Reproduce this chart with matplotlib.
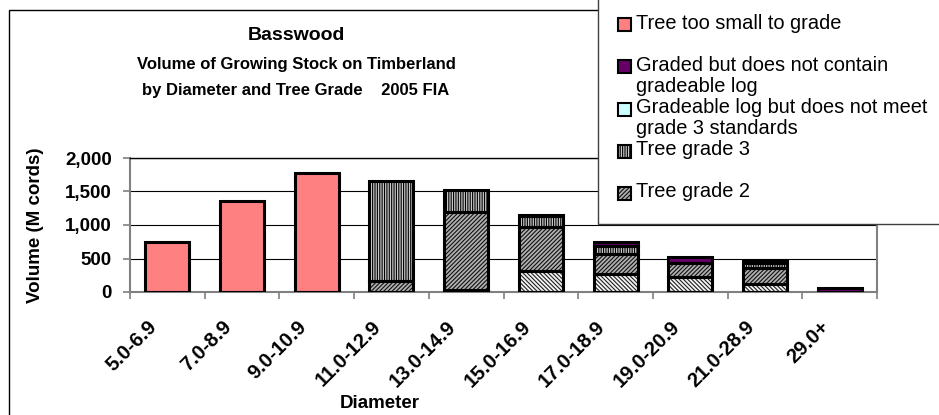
import matplotlib
matplotlib.use("Agg")
import matplotlib.pyplot as plt
import matplotlib.patches as mpatches
from matplotlib.ticker import StrMethodFormatter
from matplotlib.transforms import ScaledTranslation
import numpy as np

plt.rcParams["font.family"] = ["Liberation Sans", "DejaVu Sans"]
plt.rcParams["hatch.linewidth"] = 0.8

# data (M cords)
diameters = ["5.0-6.9", "7.0-8.9", "9.0-10.9", "11.0-12.9", "13.0-14.9",
             "15.0-16.9", "17.0-18.9", "19.0-20.9", "21.0-28.9", "29.0+"]
tree_grade_1 = [0, 0, 0, 0, 30, 320, 270, 220, 120, 0]
tree_grade_2 = [0, 0, 0, 165, 1160, 655, 300, 210, 235, 0]
tree_grade_3 = [0, 0, 0, 1485, 330, 165, 110, 0, 83, 0]
below_grade_3 = [0, 0, 0, 0, 0, 0, 0, 0, 0, 0]
no_gradeable_log = [0, 0, 0, 0, 0, 10, 65, 90, 30, 60]
too_small = [740, 1360, 1780, 0, 0, 0, 0, 0, 0, 0]

series = [
    ("Tree grade 1", tree_grade_1, "#f4f4f4", "\\" * 8, "#202020"),
    ("Tree grade 2", tree_grade_2, "#b0b0b0", "/" * 8, "#101010"),
    ("Tree grade 3", tree_grade_3, "#c8c8c8", "|" * 7, "#000000"),
    ("Gradeable log but does not meet\ngrade 3 standards", below_grade_3, "#ccffff", None, None),
    ("Graded but does not contain\ngradeable log", no_gradeable_log, "#660066", None, None),
    ("Tree too small to grade", too_small, "#ff8080", None, None),
]

W, H = 939, 415
fig = plt.figure(figsize=(W / 100, H / 100), dpi=100)
ax = fig.add_axes([130 / W, 1 - 292 / H, (877 - 130) / W, (292 - 158) / H])

x = np.arange(len(diameters))
bottom = np.zeros(len(diameters))
for name, vals, face, hatch, hcol in series:
    vals = np.array(vals, dtype=float)
    lw = [2.2 if v > 0 else 0 for v in vals]
    ax.bar(x, vals, 0.59, bottom=bottom, color=face, hatch=hatch,
           edgecolor=hcol if hcol else face, linewidth=0, zorder=2)
    ax.bar(x, vals, 0.59, bottom=bottom, fill=False, edgecolor="black",
           linewidth=lw, zorder=3)
    bottom += vals

ax.set_xlim(-0.5, len(diameters) - 0.5)
ax.set_ylim(0, 2000)
ax.set_yticks([0, 500, 1000, 1500, 2000])
ax.yaxis.set_major_formatter(StrMethodFormatter("{x:,.0f}"))
ax.grid(axis="y", color="black", linewidth=0.8, zorder=0)
ax.set_axisbelow(True)

ax.set_xticks(np.arange(len(diameters) + 1) - 0.5)
ax.set_xticklabels([])
ax.set_xticks(x, diameters, minor=True)
ax.tick_params(axis="x", which="major", direction="out", length=5, width=1.2, color="#808080")
ax.tick_params(axis="x", which="minor", length=0, pad=18)
ax.tick_params(axis="y", direction="out", length=5, width=1.2, color="#808080", pad=8,
               labelsize=13.5)
for lab in ax.get_yticklabels():
    lab.set_fontweight("bold")
off = ScaledTranslation(-20 / 100, 0, fig.dpi_scale_trans)
for lab in ax.get_xticklabels(minor=True):
    lab.set_rotation(45)
    lab.set_rotation_mode("anchor")
    lab.set_ha("right")
    lab.set_va("top")
    lab.set_fontsize(14.5)
    lab.set_fontweight("bold")
    lab.set_transform(lab.get_transform() + off)

for side in ["left", "bottom", "right"]:
    ax.spines[side].set_color("#808080")
    ax.spines[side].set_linewidth(1.5)
ax.spines["top"].set_color("black")
ax.spines["top"].set_linewidth(1)

ax.set_ylabel("Volume (M cords)", fontsize=13.5, fontweight="bold")
ax.yaxis.set_label_coords(-0.127, 0.5)
ax.yaxis.label.set_va("center")
ax.set_xlabel("Diameter", fontsize=13.5, fontweight="bold")
ax.xaxis.set_label_coords(0.334, -0.835)
ax.xaxis.label.set_va("center")

# titles
fig.text(296 / W, 1 - 35 / H, "Basswood", ha="center", va="center",
         fontsize=14, fontweight="bold")
fig.text(296 / W, 1 - 64 / H, "Volume of Growing Stock on Timberland", ha="center",
         va="center", fontsize=12, fontweight="bold")
fig.text(296 / W, 1 - 91 / H, "by Diameter and Tree Grade    2005 FIA", ha="center",
         va="center", fontsize=12, fontweight="bold")

# outer chart border (cropped on right / bottom)
fig.patches.append(mpatches.Rectangle((9 / W, -0.2), 1.2, 1 - 10 / H + 0.2, fill=False,
                                      edgecolor="black", linewidth=1,
                                      transform=fig.transFigure, zorder=1))

# legend box, cut off by the image edge
fig.patches.append(mpatches.Rectangle((598 / W, 1 - 224 / H), 0.6, 0.7, facecolor="white",
                                      edgecolor="#404040", linewidth=1,
                                      transform=fig.transFigure, zorder=5))
shown = list(reversed(series))[:5]
for i, (name, vals, face, hatch, hcol) in enumerate(shown):
    yc = 25 + 42 * i
    fig.patches.append(mpatches.Rectangle((618 / W, 1 - (yc + 6.5) / H), 13 / W, 13 / H,
                                          facecolor=face, hatch=hatch,
                                          edgecolor=hcol if hcol else face, linewidth=0,
                                          transform=fig.transFigure, zorder=6))
    fig.patches.append(mpatches.Rectangle((618 / W, 1 - (yc + 6.5) / H), 13 / W, 13 / H,
                                          fill=False, edgecolor="black", linewidth=1.5,
                                          transform=fig.transFigure, zorder=7))
    fig.text(636 / W, 1 - (yc - 11) / H, name, ha="left", va="top", fontsize=14.4,
             linespacing=1.14, zorder=7)

fig.savefig("out.png", dpi=100)
